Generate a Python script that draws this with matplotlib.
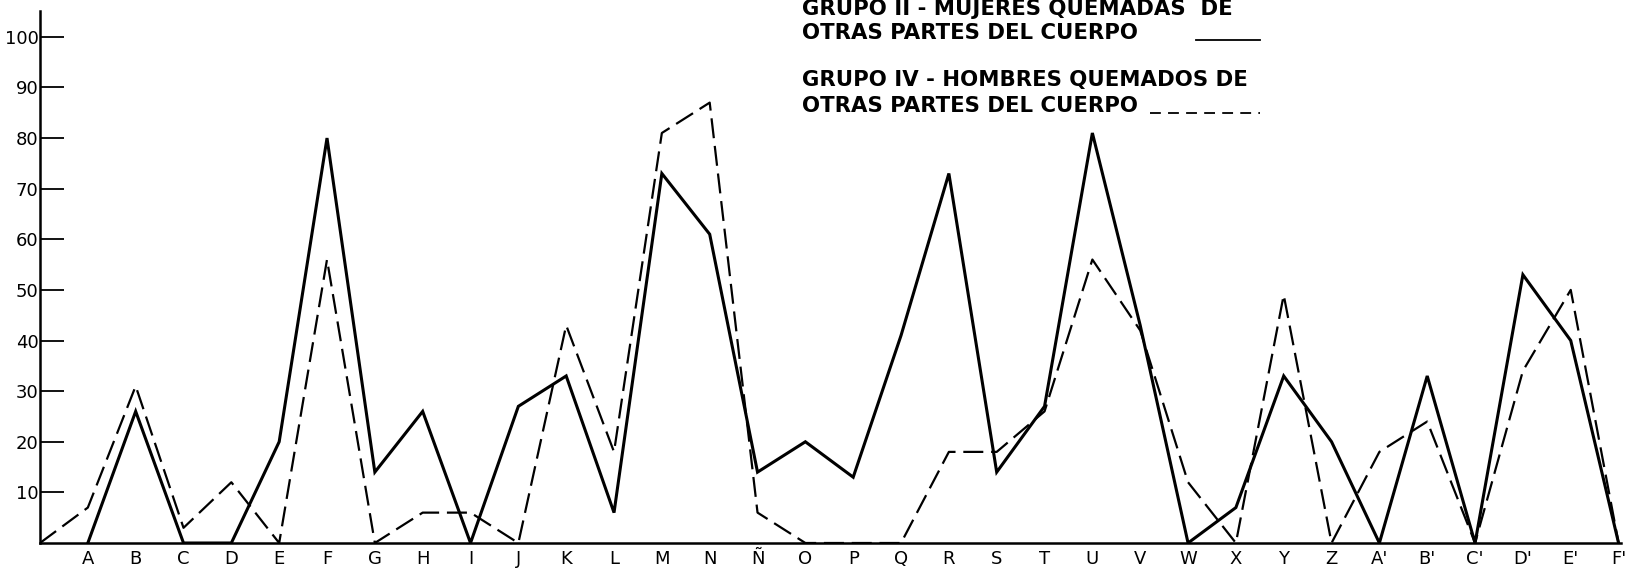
import matplotlib
matplotlib.use("Agg")
import matplotlib.pyplot as plt
from matplotlib.lines import Line2D

# --- data ---
CATEGORIES = ["A", "B", "C", "D", "E", "F", "G", "H", "I", "J", "K", "L", "M", "N", "Ñ",
              "O", "P", "Q", "R", "S", "T", "U", "V", "W", "X", "Y", "Z",
              "A'", "B'", "C'", "D'", "E'", "F'"]
# Grupo II - mujeres (solid)
GRUPO_II = [0, 26, 0, 0, 20, 80, 14, 26, 0, 27, 33, 6, 73, 61, 14,
            20, 13, 41, 73, 14, 27, 81, 43, 0, 7, 33, 20,
            0, 33, 0, 53, 40, 0]
# Grupo IV - hombres (dashed), starts at the origin
GRUPO_IV_ORIGIN = 0
GRUPO_IV = [7, 31, 3, 12, 0, 56, 0, 6, 6, 0, 43, 18, 81, 87, 6,
            0, 0, 0, 18, 18, 26, 56, 42, 12, 0, 49, 0,
            18, 24, 0, 34, 50, 0]
Y_TICKS = [10, 20, 30, 40, 50, 60, 70, 80, 90, 100]
LEGEND_LINES = ["GRUPO II - MUJERES QUEMADAS  DE",
                "OTRAS PARTES DEL CUERPO",
                "GRUPO IV - HOMBRES QUEMADOS DE",
                "OTRAS PARTES DEL CUERPO"]

W, H = 1631, 569
plt.rcParams["font.family"] = ["DejaVu Sans"]

fig = plt.figure(figsize=(W / 100, H / 100), dpi=100)
ax = fig.add_axes([40 / W, 26 / H, 1591 / W, 532 / H])

x = list(range(len(CATEGORIES)))
ax.plot(x, GRUPO_II, color="black", lw=2.2, solid_joinstyle="miter")
dashed, = ax.plot([-1] + x, [GRUPO_IV_ORIGIN] + GRUPO_IV, color="black", lw=1.6)
dashed.set_dashes((9, 3.5))

ax.set_xlim(-1, 32.26)
ax.set_ylim(0, 105.1)
for side in ("top", "right"):
    ax.spines[side].set_visible(False)
for side in ("left", "bottom"):
    ax.spines[side].set_linewidth(1.8)
ax.spines["bottom"].set_bounds(-1, 32.05)

ax.set_yticks(Y_TICKS)
ax.set_yticklabels([str(v) for v in Y_TICKS])
ax.tick_params(axis="y", direction="in", length=17, width=1.3, pad=1, labelsize=13)
ax.set_xticks(x)
ax.set_xticklabels(CATEGORIES)
ax.tick_params(axis="x", length=0, pad=5, labelsize=13)

# legend block, written as text at the top right
ys = [9, 33, 80, 106]
for txt, yy in zip(LEGEND_LINES, ys):
    fig.text(802 / W, 1 - yy / H, txt, fontsize=15.3, fontweight="bold",
             ha="left", va="center")
fig.add_artist(Line2D([1196 / W, 1260 / W], [1 - 40 / H, 1 - 40 / H],
                      transform=fig.transFigure, color="black", lw=1.3))
leg_dash = Line2D([1150 / W, 1260 / W], [1 - 113 / H, 1 - 113 / H],
                  transform=fig.transFigure, color="black", lw=1.3)
leg_dash.set_dashes((6, 4))
fig.add_artist(leg_dash)

fig.savefig("out.png", dpi=100)
